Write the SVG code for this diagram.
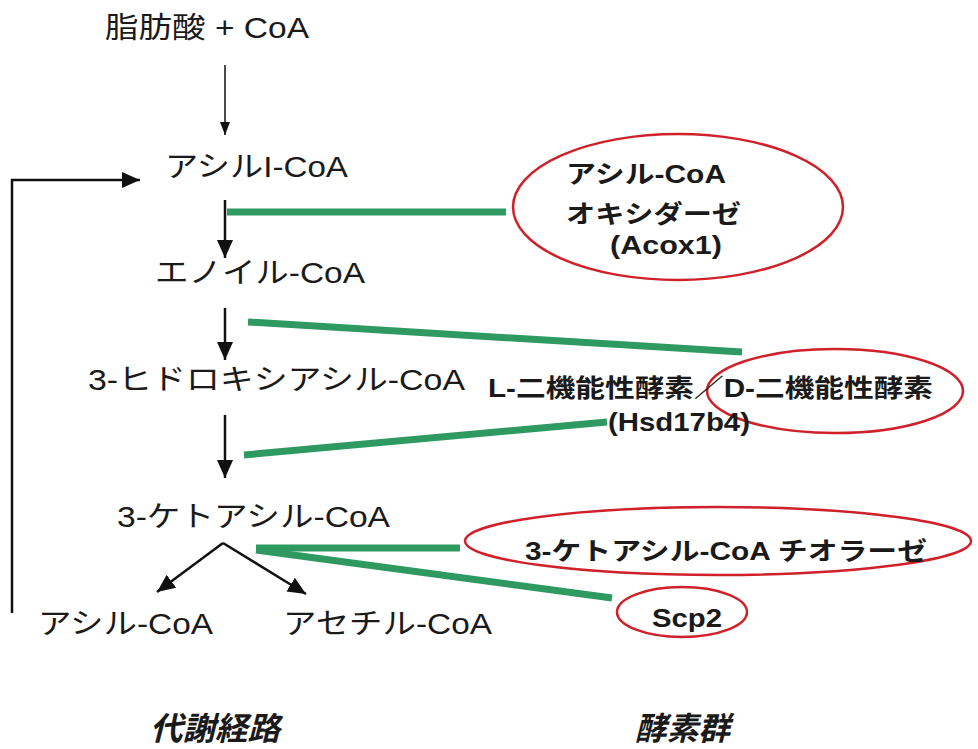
<svg xmlns="http://www.w3.org/2000/svg" width="978" height="749" viewBox="0 0 978 749">
<style>
.m{font-family:"Liberation Sans","Noto Sans CJK JP",sans-serif;font-size:29px;fill:#1a1a1a}
.e{font-family:"Liberation Sans","Noto Sans CJK JP",sans-serif;font-size:25px;font-weight:bold;fill:#1a1a1a}
.t{font-family:"Noto Sans CJK JP","Liberation Sans",sans-serif;font-size:32px;font-weight:bold;font-style:italic;fill:#1a1a1a}
.ar{stroke:#111;stroke-width:2.5;fill:none}
.g{stroke:#2e9a62;stroke-width:7;fill:none}
.el{stroke:#d0202a;stroke-width:2.5;fill:none}
</style>
<defs>
<marker id="h" markerUnits="userSpaceOnUse" markerWidth="20" markerHeight="20" viewBox="0 0 20 20" refX="18" refY="10" orient="auto"><path d="M0,2 L18,10 L0,18 Z" fill="#111"/></marker>
<marker id="hs" markerUnits="userSpaceOnUse" markerWidth="14" markerHeight="14" viewBox="0 0 14 14" refX="13" refY="7" orient="auto"><path d="M0,2 L13,7 L0,12 Z" fill="#111"/></marker>
</defs>
<g id="n-fa"><text class="m" x="105" y="38" textLength="204" lengthAdjust="spacingAndGlyphs">脂肪酸 + CoA</text></g>
<g id="n-acyl"><text class="m" x="165" y="177" textLength="183" lengthAdjust="spacingAndGlyphs">アシルI-CoA</text></g>
<g id="n-enoyl"><text class="m" x="155" y="283" textLength="210" lengthAdjust="spacingAndGlyphs">エノイル-CoA</text></g>
<g id="n-hydroxy"><text class="m" x="88" y="390" textLength="377" lengthAdjust="spacingAndGlyphs">3-ヒドロキシアシル-CoA</text></g>
<g id="n-keto"><text class="m" x="117" y="527" textLength="273" lengthAdjust="spacingAndGlyphs">3-ケトアシル-CoA</text></g>
<g id="n-acyl2"><text class="m" x="38" y="634" textLength="175" lengthAdjust="spacingAndGlyphs">アシル-CoA</text></g>
<g id="n-acetyl"><text class="m" x="283" y="634" textLength="209" lengthAdjust="spacingAndGlyphs">アセチル-CoA</text></g>
<g id="e-acox">
<ellipse class="el" cx="678" cy="207" rx="165" ry="73"/>
<text class="e" x="566" y="183" textLength="160" lengthAdjust="spacingAndGlyphs">アシル-CoA</text>
<text class="e" x="566" y="223" textLength="175" lengthAdjust="spacingAndGlyphs">オキシダーゼ</text>
<text class="e" x="610" y="254" textLength="112" lengthAdjust="spacingAndGlyphs">(Acox1)</text>
</g>
<g id="e-dbp">
<ellipse class="el" cx="835" cy="391" rx="128" ry="42"/>
<text class="e" x="488" y="397" textLength="445" lengthAdjust="spacingAndGlyphs">L-二機能性酵素／D-二機能性酵素</text>
<text class="e" x="608" y="431" textLength="142" lengthAdjust="spacingAndGlyphs">(Hsd17b4)</text>
</g>
<g id="e-thiolase">
<ellipse class="el" cx="718" cy="541" rx="253" ry="34"/>
<text class="e" x="525" y="560" textLength="402" lengthAdjust="spacingAndGlyphs">3-ケトアシル-CoA チオラーゼ</text>
</g>
<g id="e-scp2">
<ellipse class="el" cx="682" cy="612" rx="65" ry="25"/>
<text class="e" x="652" y="627" textLength="70" lengthAdjust="spacingAndGlyphs">Scp2</text>
</g>
<g id="labels">
<text class="t" x="150" y="740" textLength="130" lengthAdjust="spacingAndGlyphs">代謝経路</text>
<text class="t" x="635" y="740" textLength="95" lengthAdjust="spacingAndGlyphs">酵素群</text>
</g>
<g id="connectors">
<line x1="225" y1="65" x2="225" y2="135" stroke="#111" stroke-width="1.5" marker-end="url(#hs)"/>
<line class="ar" x1="225" y1="200" x2="225" y2="258" marker-end="url(#h)"/>
<line class="ar" x1="225" y1="308" x2="225" y2="360" marker-end="url(#h)"/>
<line class="ar" x1="225" y1="415" x2="225" y2="478" marker-end="url(#h)"/>
<line class="ar" x1="223" y1="543" x2="157" y2="592" marker-end="url(#h)"/>
<line class="ar" x1="223" y1="543" x2="306" y2="594" marker-end="url(#h)"/>
<path class="ar" d="M12,613 V180 H140" marker-end="url(#h)"/>
<line class="g" x1="227" y1="212" x2="506" y2="212"/>
<line class="g" x1="248" y1="322" x2="742" y2="352"/>
<line class="g" x1="244" y1="455" x2="607" y2="422"/>
<line class="g" x1="256" y1="548" x2="460" y2="548"/>
<line class="g" x1="256" y1="550" x2="612" y2="598"/>
</g>
</svg>
